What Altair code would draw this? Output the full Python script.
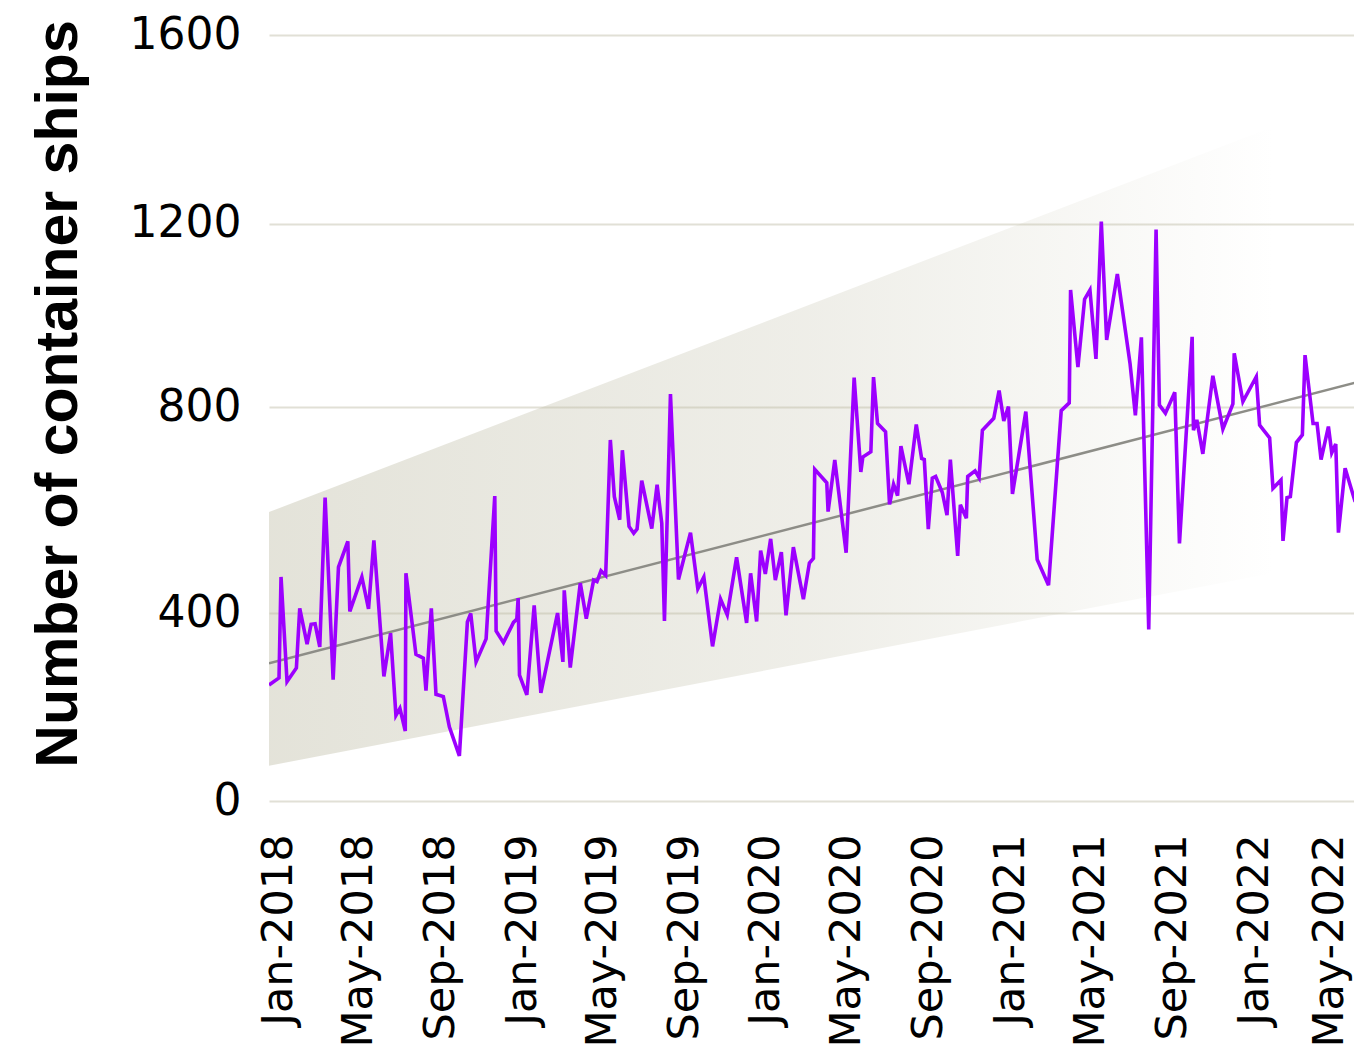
import altair as alt
import pandas as pd

# ---- data ----
# days after 2018-01-01 for each vertex of the weekly series
days = [-14, 1, 4, 13, 27, 32, 43, 49, 55, 62, 70, 82, 90, 104, 107, 125, 135, 143, 158, 168,
        176, 182, 190, 191, 206, 217, 221, 229, 236, 247, 256, 271, 283, 288, 296, 311, 324, 326, 337, 352,
        357, 359, 361, 372, 383, 393, 418, 426, 428, 437, 452, 461, 472, 477, 483, 490, 497, 503, 511, 515,
        525, 532, 537, 544, 559, 567, 574, 578, 587, 599, 617, 628, 637, 650, 662, 672, 686, 701, 707, 716,
        722, 729, 737, 744, 753, 760, 771, 786, 795, 801, 803, 821, 823, 833, 850, 862, 872, 875, 887, 891,
        897, 909, 915, 921, 927, 932, 944, 955, 963, 967, 973, 979, 984, 994, 1001, 1006, 1017, 1021, 1030, 1032,
        1043, 1049, 1054, 1071, 1079, 1086, 1093, 1099, 1119, 1136, 1153, 1172, 1184, 1186, 1197, 1207, 1215, 1224, 1232, 1240,
        1256, 1275, 1283, 1292, 1303, 1314, 1319, 1328, 1342, 1349, 1368, 1370, 1375, 1384, 1399, 1414, 1429, 1431, 1444, 1464,
        1469, 1484, 1489, 1501, 1504, 1510, 1515, 1524, 1533, 1537, 1549, 1555, 1561, 1572, 1577, 1583, 1587, 1597, 1612, 1620,
        1629]
ships = [247, 262, 470, 254, 283, 409, 334, 376, 377, 328, 624, 258, 489, 539, 403, 470, 408, 541, 265, 357,
         182, 197, 149, 477, 312, 304, 235, 409, 227, 222, 158, 96, 381, 399, 296, 345, 627, 362, 337, 380,
         387, 429, 268, 226, 415, 230, 400, 296, 444, 284, 458, 388, 464, 461, 482, 473, 736, 626, 581, 716,
         568, 555, 563, 657, 564, 649, 574, 383, 828, 465, 556, 447, 470, 329, 427, 396, 508, 379, 477, 382,
         521, 476, 544, 464, 518, 395, 528, 427, 497, 506, 679, 653, 597, 697, 517, 864, 674, 703, 713, 865,
         768, 752, 611, 650, 628, 724, 650, 766, 700, 698, 563, 662, 665, 634, 590, 698, 511, 610, 584, 665,
         676, 663, 755, 778, 836, 773, 801, 631, 791, 504, 454, 793, 809, 1055, 887, 1035, 1055, 905, 1204, 946,
         1090, 895, 784, 952, 365, 1187, 804, 788, 832, 535, 953, 755, 775, 709, 868, 757, 807, 917, 812, 866,
         765, 740, 642, 658, 540, 624, 626, 731, 746, 913, 768, 768, 698, 762, 711, 728, 556, 681, 616, 753,
         678]

# trend line and its widening band (two ends each)
band_days = [-14, 1623]
band_upper = [596, 1478]
band_lower = [75, 511]
trend_values = [293, 857]

x_ticks = ["2018-01-01", "2018-05-01", "2018-09-01", "2019-01-01", "2019-05-01", "2019-09-01",
           "2020-01-01", "2020-05-01", "2020-09-01", "2021-01-01", "2021-05-01", "2021-09-01",
           "2022-01-01", "2022-05-01"]
y_ticks = [0, 400, 800, 1200, 1600]
y_tick_pixels = [766, 578, 372, 188.5, 0]   # positions of the gridlines as drawn

TITLE = "Number of container ships"

base = pd.Timestamp("2018-01-01")


def to_dates(ds):
    return [(base + pd.Timedelta(days=d)).strftime("%Y-%m-%dT%H:%M:%S") for d in ds]


line_df = pd.DataFrame({"date": to_dates(days), "ships": ships})
band_df = pd.DataFrame({"date": to_dates(band_days), "upper": band_upper,
                        "lower": band_lower, "trend": trend_values})

x_domain = to_dates([-14, 1610.3])
x_values = [alt.DateTime(year=int(s[:4]), month=int(s[5:7]), date=1) for s in x_ticks]

x_scale = alt.Scale(domain=x_domain)
y_scale = alt.Scale(domain=y_ticks, range=y_tick_pixels, nice=False, zero=False)

LABEL_FONT = "DejaVu Sans"

x_axis = alt.Axis(values=x_values, format="%b-%Y", labelAngle=-90, grid=False, ticks=False,
                  tickSize=0, domain=False, labelPadding=33, labelFont=LABEL_FONT,
                  labelFontSize=43, labelColor="#000000", title=None, labelOverlap=False,
                  labelFlush=False, labelLimit=0,
                  labelOffset={"condition": {"test": "datum.value > datetime(2022, 2, 1)",
                                             "value": -5},
                               "value": 0})
y_axis = alt.Axis(values=y_ticks, format="d", grid=True, gridColor="#e1e0d6", gridWidth=2,
                  ticks=False, tickSize=0, domain=False, labelPadding=28, labelFont=LABEL_FONT,
                  labelFontSize=44, labelColor="#000000", labelFlush=False, labelLimit=0,
                  title=TITLE, titleFont="Liberation Sans", titleFontSize=59,
                  titleFontWeight="bold", titleColor="#000000", titleAngle=270,
                  titleAlign="center", titleBaseline="alphabetic", titleX=-193, titleY=358.5,
                  titleLimit=0)

gradient = alt.Gradient(
    gradient="linear",
    stops=[alt.GradientStop(color="rgba(190,188,165,0.42)", offset=0),
           alt.GradientStop(color="rgba(190,188,165,0.25)", offset=0.5),
           alt.GradientStop(color="rgba(190,188,165,0.11)", offset=0.75),
           alt.GradientStop(color="rgba(190,188,165,0.0)", offset=0.92)],
    x1=0, x2=1, y1=0, y2=0,
)

band = alt.Chart(band_df).mark_area(color=gradient, clip=True).encode(
    x=alt.X("date:T", scale=x_scale, axis=x_axis),
    y=alt.Y("upper:Q", scale=y_scale, axis=y_axis, title=TITLE),
    y2="lower:Q",
)

trend = alt.Chart(band_df).mark_line(color="#8d8d87", strokeWidth=2.5, clip=True).encode(
    x=alt.X("date:T", scale=x_scale, axis=x_axis),
    y=alt.Y("trend:Q", scale=y_scale, axis=y_axis, title=TITLE),
)

series = alt.Chart(line_df).mark_line(color="#9c00ff", strokeWidth=3.6, clip=True,
                                      strokeJoin="miter").encode(
    x=alt.X("date:T", scale=x_scale, axis=x_axis),
    y=alt.Y("ships:Q", scale=y_scale, axis=y_axis, title=TITLE),
)

chart = alt.layer(band, trend, series).properties(
    width=1085,
    height=766,
    padding={"left": 261, "right": 0, "top": 27, "bottom": 249},
    autosize=alt.AutoSizeParams(type="none"),
    background="#ffffff",
).configure_view(stroke=None)

chart.save("out.html", embed_options={"renderer": "svg", "actions": False})
